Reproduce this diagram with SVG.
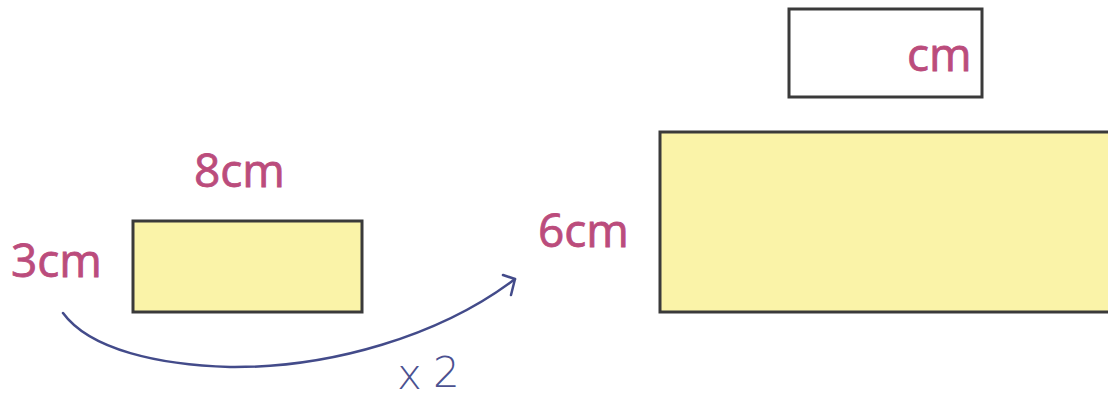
<svg xmlns="http://www.w3.org/2000/svg" width="1108" height="399" viewBox="0 0 1108 399">
<style>
.box{stroke:#3a3a3a;stroke-width:3;}
.yel{fill:#faf3a8;}
.wht{fill:#ffffff;}
.lbl{font-family:"Open Sans","Liberation Sans",sans-serif;font-size:46px;fill:#bb4c7c;stroke:#bb4c7c;stroke-width:0.8;}
.hand{font-family:"DejaVu Sans","Liberation Sans",sans-serif;font-weight:200;fill:#4b5190;}
.conn{fill:none;stroke:#434b8a;stroke-width:2.5;stroke-linecap:round;stroke-linejoin:round;}
</style>
<rect width="1108" height="399" fill="#ffffff"/>
<g id="small-rect">
<rect class="box yel" x="133" y="221" width="229" height="91"/>
<text class="lbl" x="194" y="187">8cm</text>
<text class="lbl" x="11" y="277">3cm</text>
</g>
<g id="big-rect">
<rect class="box yel" x="660" y="132" width="460" height="180"/>
<text class="lbl" x="538" y="247">6cm</text>
</g>
<g id="answer-box">
<rect class="box wht" x="789" y="9" width="193" height="88"/>
<text class="lbl" x="907" y="71">cm</text>
</g>
<g id="connectors">
<path class="conn" d="M63,313 C90,350 160,365 230,367 C330,368 440,336 515,279"/>
<path class="conn" d="M503,275 L515,279 L511,295"/>
<text class="hand" x="397" y="389" font-size="42">x</text>
<text class="hand" x="433" y="387" font-size="42">2</text>
</g>
</svg>
